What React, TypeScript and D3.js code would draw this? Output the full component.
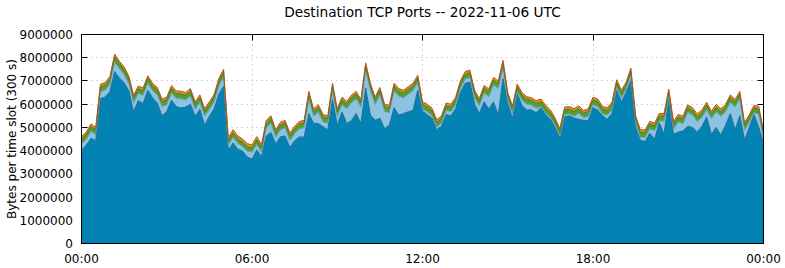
import React from "react";
import * as d3 from "d3";

// 10-minute samples, values in millions of bytes per 300 s slot
const baseBlue = [
  4.03, 4.23, 4.53, 4.43, 6.24, 6.31, 6.55, 7.41, 7.13, 6.93,
  6.58, 5.67, 6.16, 6.03, 6.6, 6.28, 6.05, 5.5, 5.68, 6.18,
  5.9, 5.84, 5.88, 6.0, 5.48, 5.78, 5.09, 5.48, 5.8, 6.43,
  6.78, 4.03, 4.33, 4.06, 3.98, 3.73, 3.63, 4.03, 3.74, 4.63,
  4.78, 4.28, 4.6, 4.63, 4.13, 4.43, 4.59, 4.58, 5.6, 5.17,
  5.17, 5.03, 4.89, 6.2, 5.1, 5.67, 5.17, 5.3, 5.6, 5.17,
  6.7, 5.53, 5.31, 5.39, 4.95, 5.1, 5.85, 5.53, 5.6, 5.67,
  5.74, 6.6, 5.7, 5.55, 5.4, 4.9, 5.05, 5.55, 5.5, 5.8,
  6.5, 6.9, 6.95, 6.0, 5.6, 6.1, 5.8, 6.1, 5.53, 7.1,
  6.03, 5.39, 6.45, 5.95, 5.75, 5.76, 5.63, 5.85, 5.55, 5.35,
  5.0, 4.55, 5.45, 5.5, 5.4, 5.35, 5.3, 5.3, 5.85, 5.75,
  5.5, 5.35, 5.6, 6.6, 6.1, 6.5, 7.0, 5.0, 4.45, 4.39,
  4.75, 4.5, 5.2, 4.7, 6.2, 4.7, 4.8, 4.85, 5.05, 5.0,
  4.81, 5.05, 5.45, 4.7, 5.0, 4.67, 5.1, 5.6, 4.9, 5.5,
  4.46, 5.0, 5.55, 5.0, 4.35,
];
const lightBlue = [
  0.25, 0.25, 0.3, 0.25, 0.3, 0.3, 0.3, 0.4, 0.4, 0.35,
  0.3, 0.4, 0.3, 0.35, 0.3, 0.3, 0.35, 0.4, 0.3, 0.3,
  0.35, 0.4, 0.3, 0.35, 0.3, 0.3, 0.4, 0.3, 0.3, 0.35,
  0.4, 0.2, 0.25, 0.25, 0.2, 0.25, 0.3, 0.25, 0.2, 0.35,
  0.4, 0.3, 0.3, 0.35, 0.3, 0.3, 0.35, 0.4, 0.63, 0.31,
  0.49, 0.2, 0.29, 0.38, 0.38, 0.31, 0.63, 0.77, 0.63, 0.71,
  0.78, 1.05, 0.67, 1.01, 0.73, 0.53, 0.73, 0.82, 0.68, 0.76,
  0.84, 0.33, 0.08, 0.13, 0.11, 0.11, 0.13, 0.18, 0.18, 0.18,
  0.18, 0.18, 0.2, 0.28, 0.32, 0.38, 0.53, 0.73, 1.15, 0.47,
  0.15, 0.21, 0.1, 0.23, 0.25, 0.2, 0.2, 0.05, 0.08, 0.08,
  0.08, 0.08, 0.1, 0.08, 0.08, 0.26, 0.11, 0.18, 0.13, 0.15,
  0.08, 0.18, 0.16, 0.13, 0.18, 0.13, 0.23, 0.18, 0.13, 0.18,
  0.19, 0.36, 0.08, 0.58, 0.13, 0.23, 0.44, 0.31, 0.6, 0.53,
  0.45, 0.38, 0.31, 0.68, 0.67, 0.81, 0.58, 0.48, 0.98, 0.73,
  0.42, 0.23, 0.08, 0.58, 0.18,
];
const green = [
  0.2, 0.2, 0.2, 0.2, 0.2, 0.2, 0.22, 0.22, 0.2, 0.2,
  0.2, 0.2, 0.2, 0.2, 0.2, 0.2, 0.2, 0.2, 0.2, 0.2,
  0.2, 0.2, 0.2, 0.2, 0.2, 0.2, 0.2, 0.2, 0.2, 0.2,
  0.2, 0.18, 0.18, 0.18, 0.18, 0.18, 0.18, 0.18, 0.18, 0.2,
  0.2, 0.2, 0.2, 0.2, 0.2, 0.2, 0.2, 0.2, 0.2, 0.2,
  0.2, 0.2, 0.2, 0.2, 0.2, 0.2, 0.2, 0.2, 0.2, 0.2,
  0.18, 0.2, 0.2, 0.2, 0.2, 0.2, 0.2, 0.2, 0.2, 0.2,
  0.2, 0.2, 0.2, 0.2, 0.2, 0.2, 0.2, 0.2, 0.2, 0.2,
  0.2, 0.2, 0.2, 0.2, 0.2, 0.2, 0.2, 0.2, 0.2, 0.2,
  0.2, 0.2, 0.2, 0.2, 0.2, 0.2, 0.2, 0.2, 0.2, 0.2,
  0.2, 0.2, 0.2, 0.2, 0.2, 0.2, 0.2, 0.2, 0.2, 0.2,
  0.2, 0.2, 0.2, 0.2, 0.2, 0.2, 0.2, 0.2, 0.2, 0.2,
  0.2, 0.2, 0.2, 0.2, 0.2, 0.2, 0.2, 0.2, 0.2, 0.2,
  0.2, 0.2, 0.2, 0.2, 0.2, 0.2, 0.2, 0.2, 0.2, 0.2,
  0.2, 0.2, 0.2, 0.2, 0.2,
];
const orange = [
  0.12, 0.12, 0.12, 0.12, 0.12, 0.12, 0.12, 0.12, 0.12, 0.12,
  0.12, 0.12, 0.12, 0.12, 0.12, 0.12, 0.12, 0.12, 0.12, 0.12,
  0.12, 0.12, 0.12, 0.12, 0.12, 0.12, 0.12, 0.12, 0.12, 0.12,
  0.12, 0.14, 0.14, 0.14, 0.14, 0.14, 0.14, 0.14, 0.14, 0.12,
  0.12, 0.12, 0.12, 0.12, 0.12, 0.12, 0.12, 0.12, 0.12, 0.12,
  0.12, 0.12, 0.12, 0.12, 0.12, 0.12, 0.12, 0.12, 0.12, 0.12,
  0.12, 0.12, 0.12, 0.12, 0.12, 0.12, 0.12, 0.12, 0.12, 0.12,
  0.12, 0.12, 0.12, 0.12, 0.12, 0.12, 0.12, 0.12, 0.12, 0.12,
  0.12, 0.12, 0.12, 0.12, 0.12, 0.12, 0.12, 0.12, 0.12, 0.12,
  0.12, 0.12, 0.12, 0.12, 0.12, 0.12, 0.12, 0.12, 0.12, 0.12,
  0.12, 0.12, 0.12, 0.12, 0.12, 0.12, 0.12, 0.12, 0.12, 0.12,
  0.12, 0.12, 0.12, 0.12, 0.12, 0.12, 0.12, 0.12, 0.12, 0.12,
  0.12, 0.12, 0.12, 0.12, 0.12, 0.12, 0.12, 0.12, 0.12, 0.12,
  0.12, 0.12, 0.12, 0.12, 0.12, 0.12, 0.12, 0.12, 0.12, 0.12,
  0.12, 0.12, 0.12, 0.12, 0.12,
];

const yTickValues = [0, 1000000, 2000000, 3000000, 4000000, 5000000, 6000000, 7000000, 8000000, 9000000];
const xTickMinutes = [0, 360, 720, 1080, 1440];
const xTickLabels = ["00:00", "06:00", "12:00", "18:00", "00:00"];
const title = "Destination TCP Ports -- 2022-11-06 UTC";
const yLabel = "Bytes per time slot (300 s)";

const keys = ["base", "light", "green", "orange"];
const fills: Record<string, string> = {
  base: "#0383b3",
  light: "#8dc3e2",
  green: "#52a02e",
  orange: "#e08c1c",
};
const edges: Record<string, string> = {
  base: "#1f6d94",
  light: "#6d9cb8",
  green: "#3a7d22",
  orange: "#b8521a",
};

export default function App() {
  const W = 785;
  const H = 268;
  const left = 81.5, right = 763.5, top = 34.5, bottom = 243.5;
  const rows = baseBlue.map((b, i) => ({
    t: i * 10,
    base: b * 1e6,
    light: lightBlue[i] * 1e6,
    green: green[i] * 1e6,
    orange: orange[i] * 1e6,
  }));
  const x = d3.scaleLinear().domain([0, 1440]).range([left, right]);
  const y = d3.scaleLinear().domain([0, 9000000]).range([bottom, top]);
  const series = d3.stack<any>().keys(keys)(rows);
  const area = d3
    .area<any>()
    .x((d) => x(d.data.t))
    .y0((d) => y(d[0]))
    .y1((d) => y(d[1]));
  const line = d3
    .line<any>()
    .x((d) => x(d.data.t))
    .y((d) => y(d[1]));
  const font = "'DejaVu Sans', sans-serif";
  const gy = (v: number) => Math.round(y(v) - 0.5) + 0.5;
  const gx = (v: number) => Math.round(x(v) - 0.5) + 0.5;

  return (
    <svg width={W} height={H} style={{ position: "absolute", left: 0, top: 0, background: "#fff" }}>
      <rect x={0} y={0} width={W} height={H} fill="#fff" />
      <text x={422.5} y={17} fontFamily={font} fontSize={13.7} textAnchor="middle" fill="#000">
        {title}
      </text>
      {/* grid */}
      {yTickValues.slice(1, -1).map((v) => (
        <line key={"gy" + v} x1={left} x2={right} y1={gy(v)} y2={gy(v)} stroke="#b0b0b0" strokeWidth={1} strokeDasharray="1,4" />
      ))}
      {xTickMinutes.slice(1, -1).map((v) => (
        <line key={"gx" + v} y1={top} y2={bottom} x1={gx(v)} x2={gx(v)} stroke="#b0b0b0" strokeWidth={1} strokeDasharray="1,4" />
      ))}
      {/* ticks */}
      {yTickValues.map((v) => (
        <g key={"ty" + v}>
          <line x1={left} x2={left + 6} y1={gy(v)} y2={gy(v)} stroke="#000" />
          <line x1={right - 6} x2={right} y1={gy(v)} y2={gy(v)} stroke="#000" />
        </g>
      ))}
      {xTickMinutes.map((v, i) => (
        <g key={"tx" + i}>
          <line x1={gx(v)} x2={gx(v)} y1={bottom} y2={bottom - 6} stroke="#000" />
          <line x1={gx(v)} x2={gx(v)} y1={top} y2={top + 6} stroke="#000" />
        </g>
      ))}
      {/* stacked areas */}
      {series.map((s: any) => (
        <path key={s.key} d={area(s) || ""} fill={fills[s.key]} stroke="none" />
      ))}
      {series.map((s: any) => (
        <path key={"e" + s.key} d={line(s) || ""} fill="none" stroke={edges[s.key]} strokeWidth={1} />
      ))}
      {/* border */}
      <rect x={left} y={top} width={right - left} height={bottom - top} fill="none" stroke="#000" strokeWidth={1} />
      {/* y labels */}
      {yTickValues.map((v) => (
        <text key={"ly" + v} x={73} y={y(v) + 4.5} fontFamily={font} fontSize={12} textAnchor="end" fill="#000">
          {String(v)}
        </text>
      ))}
      {xTickMinutes.map((v, i) => (
        <text key={"lx" + i} x={x(v)} y={262.5} fontFamily={font} fontSize={12} textAnchor="middle" fill="#000">
          {xTickLabels[i]}
        </text>
      ))}
      <text
        transform={`translate(15.5, ${(top + bottom) / 2}) rotate(-90)`}
        fontFamily={font}
        fontSize={12}
        textAnchor="middle"
        fill="#000"
      >
        {yLabel}
      </text>
    </svg>
  );
}
